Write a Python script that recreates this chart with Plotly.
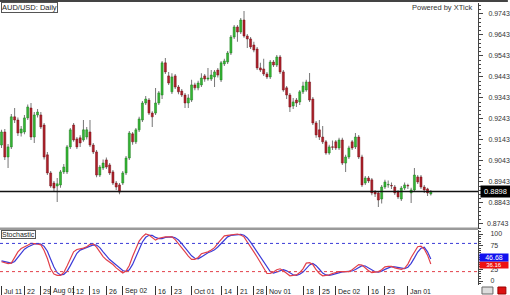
import plotly.graph_objects as go
import pandas as pd

# ---------------- data ----------------
dates = pd.bdate_range("2013-07-11", periods=132).strftime("%Y-%m-%d").tolist()

opens = [
    0.9119, 0.9181, 0.9062, 0.9110, 0.9253, 0.9238, 0.9176, 0.9181, 0.9248, 0.9295,
    0.9157, 0.9262, 0.9262, 0.9214, 0.9072, 0.8986, 0.8938, 0.8924, 0.8929, 0.8991,
    0.8991, 0.9110, 0.9214, 0.9148, 0.9153, 0.9143, 0.9157, 0.9181, 0.9119, 0.9086,
    0.8976, 0.9010, 0.9048, 0.9024, 0.8991, 0.8938, 0.8929, 0.8938, 0.8986, 0.9057,
    0.9172, 0.9134, 0.9191, 0.9238, 0.9319, 0.9333, 0.9271, 0.9271, 0.9319, 0.9357,
    0.9510, 0.9448, 0.9372, 0.9448, 0.9395, 0.9376, 0.9357, 0.9319, 0.9333, 0.9405,
    0.9391, 0.9405, 0.9448, 0.9433, 0.9433, 0.9443, 0.9476, 0.9429, 0.9505, 0.9514,
    0.9557, 0.9633, 0.9681, 0.9657, 0.9714, 0.9638, 0.9624, 0.9595, 0.9576, 0.9486,
    0.9481, 0.9457, 0.9443, 0.9514, 0.9500, 0.9538, 0.9467, 0.9391, 0.9357, 0.9305,
    0.9333, 0.9324, 0.9372, 0.9381, 0.9419, 0.9338, 0.9224, 0.9191, 0.9157, 0.9134,
    0.9081, 0.9110, 0.9134, 0.9105, 0.9143, 0.9033, 0.9062, 0.9134, 0.9110, 0.9157,
    0.9062, 0.8938, 0.8962, 0.8953, 0.8895, 0.8891, 0.8862, 0.8919, 0.8929, 0.8926,
    0.8919, 0.8895, 0.8862, 0.8914, 0.8926, 0.8891, 0.8905, 0.8967, 0.8967, 0.8919,
    0.8910, 0.8886,
]
highs = [
    0.9191, 0.9195, 0.9124, 0.9267, 0.9295, 0.9250, 0.9210, 0.9262, 0.9312, 0.9319,
    0.9276, 0.9290, 0.9276, 0.9224, 0.9086, 0.8995, 0.8948, 0.8962, 0.9000, 0.9029,
    0.9119, 0.9200, 0.9224, 0.9157, 0.9165, 0.9238, 0.9205, 0.9238, 0.9129, 0.9095,
    0.9024, 0.9050, 0.9060, 0.9033, 0.9000, 0.8948, 0.8938, 0.8995, 0.9067, 0.9186,
    0.9181, 0.9200, 0.9253, 0.9329, 0.9352, 0.9343, 0.9280, 0.9390, 0.9376, 0.9519,
    0.9533, 0.9467, 0.9460, 0.9457, 0.9405, 0.9386, 0.9367, 0.9360, 0.9430, 0.9415,
    0.9425, 0.9460, 0.9457, 0.9486, 0.9476, 0.9476, 0.9486, 0.9519, 0.9530, 0.9567,
    0.9643, 0.9690, 0.9690, 0.9724, 0.9757, 0.9648, 0.9633, 0.9610, 0.9586, 0.9510,
    0.9529, 0.9467, 0.9524, 0.9524, 0.9548, 0.9548, 0.9476, 0.9400, 0.9367, 0.9343,
    0.9343, 0.9381, 0.9420, 0.9430, 0.9462, 0.9348, 0.9233, 0.9238, 0.9210, 0.9143,
    0.9120, 0.9140, 0.9143, 0.9153, 0.9153, 0.9072, 0.9115, 0.9143, 0.9176, 0.9167,
    0.9072, 0.8972, 0.8972, 0.8962, 0.8905, 0.8900, 0.8929, 0.8953, 0.8950, 0.8940,
    0.8929, 0.8905, 0.8924, 0.8940, 0.8934, 0.8915, 0.9010, 0.8976, 0.8976, 0.8929,
    0.8915, 0.8905,
]
lows = [
    0.9105, 0.9048, 0.9010, 0.9100, 0.9224, 0.9162, 0.9160, 0.9170, 0.9238, 0.9143,
    0.9129, 0.9250, 0.9195, 0.9050, 0.8976, 0.8915, 0.8895, 0.8848, 0.8915, 0.8981,
    0.8981, 0.9100, 0.9134, 0.9100, 0.9110, 0.9134, 0.9145, 0.9110, 0.9076, 0.8965,
    0.8967, 0.9000, 0.9005, 0.8976, 0.8929, 0.8905, 0.8885, 0.8929, 0.8976, 0.9048,
    0.9120, 0.9124, 0.9181, 0.9229, 0.9310, 0.9262, 0.9205, 0.9262, 0.9310, 0.9338,
    0.9457, 0.9405, 0.9362, 0.9385, 0.9360, 0.9348, 0.9295, 0.9295, 0.9324, 0.9380,
    0.9380, 0.9395, 0.9420, 0.9425, 0.9424, 0.9395, 0.9440, 0.9419, 0.9495, 0.9505,
    0.9548, 0.9624, 0.9610, 0.9648, 0.9630, 0.9581, 0.9576, 0.9560, 0.9476, 0.9467,
    0.9448, 0.9433, 0.9433, 0.9490, 0.9490, 0.9457, 0.9372, 0.9338, 0.9276, 0.9290,
    0.9300, 0.9310, 0.9362, 0.9372, 0.9324, 0.9214, 0.9153, 0.9143, 0.9124, 0.9072,
    0.9072, 0.9095, 0.9095, 0.9095, 0.9024, 0.8991, 0.9052, 0.9095, 0.9100, 0.9052,
    0.8919, 0.8929, 0.8938, 0.8880, 0.8872, 0.8824, 0.8840, 0.8910, 0.8915, 0.8910,
    0.8881, 0.8862, 0.8852, 0.8905, 0.8910, 0.8843, 0.8895, 0.8933, 0.8910, 0.8890,
    0.8876, 0.8878,
]
closes = [
    0.9181, 0.9062, 0.9110, 0.9253, 0.9238, 0.9176, 0.9195, 0.9248, 0.9300, 0.9157,
    0.9262, 0.9276, 0.9205, 0.9062, 0.8986, 0.8924, 0.8914, 0.8934, 0.8991, 0.9014,
    0.9110, 0.9191, 0.9143, 0.9110, 0.9129, 0.9191, 0.9191, 0.9119, 0.9086, 0.8976,
    0.9014, 0.9033, 0.9014, 0.8986, 0.8938, 0.8919, 0.8895, 0.8986, 0.9057, 0.9176,
    0.9134, 0.9191, 0.9243, 0.9319, 0.9338, 0.9271, 0.9253, 0.9319, 0.9367, 0.9510,
    0.9467, 0.9414, 0.9443, 0.9395, 0.9372, 0.9357, 0.9319, 0.9343, 0.9405, 0.9391,
    0.9414, 0.9438, 0.9433, 0.9438, 0.9452, 0.9467, 0.9452, 0.9510, 0.9519, 0.9557,
    0.9633, 0.9681, 0.9657, 0.9714, 0.9638, 0.9624, 0.9586, 0.9571, 0.9486, 0.9476,
    0.9457, 0.9443, 0.9514, 0.9500, 0.9538, 0.9467, 0.9381, 0.9357, 0.9300, 0.9324,
    0.9319, 0.9372, 0.9400, 0.9419, 0.9333, 0.9224, 0.9167, 0.9157, 0.9134, 0.9081,
    0.9110, 0.9108, 0.9105, 0.9143, 0.9033, 0.9062, 0.9105, 0.9105, 0.9157, 0.9062,
    0.8929, 0.8962, 0.8948, 0.8891, 0.8886, 0.8857, 0.8919, 0.8943, 0.8931, 0.8924,
    0.8891, 0.8872, 0.8914, 0.8929, 0.8924, 0.8905, 0.8976, 0.8943, 0.8919, 0.8905,
    0.8891, 0.8898,
]

stoch_k = [
    41, 39, 37, 38, 50, 62, 69, 72, 76, 80,
    80, 79, 77, 65, 48, 26, 15, 12, 12, 18,
    32, 48, 62, 67, 68, 70, 73, 78, 79, 72,
    62, 52, 45, 40, 35, 28, 22, 17, 21, 33,
    52, 70, 85, 94, 100, 98, 93, 87, 91, 93,
    94, 94, 94, 88, 80, 71, 62, 53, 46, 46,
    50, 58, 60, 62, 66, 71, 80, 89, 96, 97,
    98, 99, 100, 98, 94, 83, 71, 62, 51, 40,
    28, 16, 16, 19, 24, 26, 22, 17, 11, 12,
    13, 18, 26, 38, 39, 35, 24, 16, 11, 12,
    13, 16, 18, 20, 20, 20, 20, 24, 29, 35,
    34, 27, 22, 18, 19, 20, 24, 30, 31, 31,
    28, 27, 25, 27, 36, 50, 62, 73, 74, 68,
    55, 36.16,
]
stoch_d = [
    43, 41, 39, 38, 41.7, 50, 60.3, 67.7, 72.3, 76,
    78.7, 79.7, 78.7, 73.7, 63.3, 46.3, 29.7, 17.7, 13, 14,
    20.7, 32.7, 47.3, 59, 65.7, 68.3, 70.3, 73.7, 76.7, 76.3,
    71, 62, 53, 45.7, 40, 34.3, 28.3, 22.3, 20, 23.7,
    35.3, 51.7, 69, 83, 93, 97.3, 97, 92.7, 90.3, 90.3,
    92.7, 93.7, 94, 92, 87.3, 79.7, 71, 62, 53.7, 48.3,
    47.3, 51.3, 56, 60, 62.7, 66.3, 72.3, 80, 88.3, 94,
    97, 98, 99, 99, 97.3, 91.7, 82.7, 72, 61.3, 51,
    39.7, 28, 20, 17, 19.7, 23, 24, 21.7, 16.7, 13.3,
    12, 14.3, 19, 27.3, 34.3, 37.3, 32.7, 25, 17, 13,
    12, 13.7, 15.7, 18, 19.3, 20, 20, 21.3, 24.3, 29.3,
    32.7, 32, 27.7, 22.3, 19.7, 19, 21, 24.7, 28.3, 30.7,
    30, 28.7, 26.7, 26.3, 29.3, 37.7, 49.3, 61.7, 69.7, 71.7,
    62, 46.68,
]

price_ticks = [0.8743, 0.8843, 0.8943, 0.9043, 0.9143, 0.9243, 0.9343, 0.9443,
               0.9543, 0.9643, 0.9743]
stoch_ticks = [0, 25, 50, 75, 100]

tick_dates = ["2013-07-11", "2013-07-22", "2013-07-29", "2013-08-01", "2013-08-12",
              "2013-08-19", "2013-08-26", "2013-09-02", "2013-09-16", "2013-09-23",
              "2013-10-01", "2013-10-14", "2013-10-21", "2013-10-28", "2013-11-01",
              "2013-11-18", "2013-11-25", "2013-12-02", "2013-12-16", "2013-12-23",
              "2014-01-01"]
tick_labels = ["Jul 11", "22", "29", "Aug 01", "12", "19", "26", "Sep 02", "16", "23",
               "Oct 01", "14", "21", "28", "Nov 01", "18", "25", "Dec 02", "16", "23",
               "Jan 01"]

# ---------------- derived drawing lists ----------------
up = [c >= o for o, c in zip(opens, closes)]
body_base = [min(o, c) for o, c in zip(opens, closes)]
body_len = [max(abs(c - o), 0.00022) for o, c in zip(opens, closes)]
body_fill = ["#34b834" if u else "#b0202a" for u in up]
body_edge = ["#1d7a1d" if u else "#741018" for u in up]
wick_len = [h - l for h, l in zip(highs, lows)]
last_price = closes[-1]

FONT = "Liberation Sans, Arial, sans-serif"

fig = go.Figure()
fig.add_trace(go.Bar(x=dates, y=wick_len, base=lows, width=0.32,
                     marker=dict(color="#7c7c7c", line=dict(width=0)),
                     xaxis="x", yaxis="y"))
fig.add_trace(go.Bar(x=dates, y=body_len, base=body_base, width=0.62,
                     marker=dict(color=body_fill, line=dict(color=body_edge, width=0.5)),
                     xaxis="x", yaxis="y"))
fig.add_trace(go.Scatter(x=dates, y=stoch_d, mode="lines",
                         line=dict(color="#3b3bd8", width=1.2), xaxis="x", yaxis="y2"))
fig.add_trace(go.Scatter(x=dates, y=stoch_k, mode="lines",
                         line=dict(color="#e2404a", width=1.2), xaxis="x", yaxis="y2"))

# main panel price scale (for placing the lowest label as free text)
Y_LO, Y_HI = 0.8721, 0.9795
DOM_LO = 0.2
H = 282.0  # plot area height in px


def py(pix):
    """paper y for a pixel row"""
    return (285 - pix) / H


def price_paper(v):
    return DOM_LO + (1 - DOM_LO) * (v - Y_LO) / (Y_HI - Y_LO)


shapes = [
    # top dark border
    dict(type="line", xref="paper", yref="paper", x0=0, x1=510 / 480, y0=py(1), y1=py(1),
         line=dict(color="#444444", width=2)),
    # panel separator
    dict(type="line", xref="paper", yref="paper", x0=0, x1=1, y0=py(228.8), y1=py(228.8),
         line=dict(color="#9a9a9a", width=2.5)),
    # current price line
    dict(type="line", xref="paper", yref="y", x0=0, x1=1, y0=last_price, y1=last_price,
         line=dict(color="#111111", width=1.5)),
    # stochastic levels
    dict(type="line", xref="paper", yref="y2", x0=0, x1=1, y0=80, y1=80,
         line=dict(color="#3b3bd8", width=1, dash="dot")),
    dict(type="line", xref="paper", yref="y2", x0=0, x1=1, y0=20, y1=20,
         line=dict(color="#e2404a", width=1, dash="dot")),
    # tiny corner buttons
    dict(type="rect", xref="paper", yref="paper", x0=484 / 480, x1=495 / 480,
         y0=py(294), y1=py(287), fillcolor="#dddddd", line=dict(color="#666666", width=1)),
    dict(type="rect", xref="paper", yref="paper", x0=500 / 480, x1=508 / 480,
         y0=py(294), y1=py(287), fillcolor="#dd1111", line=dict(color="#990000", width=1)),
]

annotations = [
    dict(text="AUD/USD: Daily", xref="paper", yref="paper", x=0.002, y=py(1.5),
         xanchor="left", yanchor="top", showarrow=False, bgcolor="white",
         bordercolor="#555555", borderwidth=1, borderpad=0,
         font=dict(family=FONT, size=7.5, color="#222222")),
    dict(text="Powered by XTick", xref="paper", yref="paper", x=444 / 480, y=py(7.5),
         xanchor="center", yanchor="middle", showarrow=False,
         font=dict(family=FONT, size=7.5, color="#333333")),
    dict(text="Stochastic", xref="paper", yref="paper", x=0.002, y=py(230),
         xanchor="left", yanchor="top", showarrow=False, bgcolor="white",
         bordercolor="#555555", borderwidth=1, borderpad=0,
         font=dict(family=FONT, size=7, color="#222222")),
    # lowest price-axis label, placed as free text
    dict(text="%.4f" % price_ticks[0], xref="paper", yref="paper", x=488.5 / 480,
         y=price_paper(price_ticks[0]), xanchor="left", yanchor="middle",
         showarrow=False, borderpad=0, bgcolor="white",
         font=dict(family=FONT, size=7, color="#333333")),
    dict(text="%.4f" % last_price, xref="paper", yref="y", x=482 / 480, y=last_price,
         xanchor="left", yanchor="middle", showarrow=False, bgcolor="#000000",
         width=27, borderpad=1, font=dict(family=FONT, size=7.5, color="white")),
    dict(text="%.2f" % stoch_k[-1], xref="paper", yref="y2", x=481 / 480, y=stoch_k[-1],
         xanchor="left", yanchor="middle", showarrow=False, bgcolor="#ee1111",
         width=28, height=6, borderpad=0, yshift=-1,
         font=dict(family=FONT, size=6, color="white")),
    dict(text="%.2f" % stoch_d[-1], xref="paper", yref="y2", x=481 / 480, y=stoch_d[-1],
         xanchor="left", yanchor="middle", showarrow=False, bgcolor="#1111ee",
         width=28, height=7, borderpad=0, yshift=1.5,
         font=dict(family=FONT, size=7, color="white")),
]
for d, lab in zip(tick_dates, tick_labels):
    annotations.append(dict(text=lab, xref="x", yref="paper", x=d, y=py(291),
                            xanchor="left", yanchor="middle", xshift=0.5, showarrow=False,
                            font=dict(family=FONT, size=7, color="#222222")))

fig.update_layout(
    width=510, height=295,
    margin=dict(l=0, r=30, t=3, b=10, pad=0),
    paper_bgcolor="white", plot_bgcolor="white",
    showlegend=False, barmode="overlay", hovermode=False,
    font=dict(family=FONT, size=7, color="#333333"),
    xaxis=dict(type="category", range=[-0.46, 145.4], tickmode="array",
               tickvals=tick_dates, ticks="outside", ticklen=9, tickwidth=1,
               tickcolor="#333333", showticklabels=False, showgrid=False,
               zeroline=False, showline=False, anchor="y2", fixedrange=True),
    yaxis=dict(domain=[DOM_LO, 1.0], range=[Y_LO, Y_HI], side="right", anchor="x",
               tickmode="array", tickvals=price_ticks,
               ticktext=[""] + ["%.4f" % v for v in price_ticks[1:]],
               ticks="outside", ticklen=4, tickcolor="#444444", showline=True,
               linecolor="#444444", linewidth=1, showgrid=False, zeroline=False,
               ticklabelstandoff=4,
               tickfont=dict(family=FONT, size=7, color="#333333"),
               minor=dict(tickmode="linear", ticks="outside", ticklen=2, tick0=0.8743,
                          dtick=0.002, tickcolor="#444444", showgrid=False)),
    yaxis2=dict(domain=[0.0, 0.195], range=[-8.5, 108.5], side="right", anchor="x",
                tickmode="array", tickvals=stoch_ticks,
                ticktext=[str(v) for v in stoch_ticks],
                ticks="outside", ticklen=4,
                tickcolor="#444444", showline=True, linecolor="#444444", linewidth=1,
                showgrid=False, zeroline=False, ticklabelstandoff=6,
                tickfont=dict(family=FONT, size=7, color="#333333"),
                minor=dict(tickmode="linear", ticks="outside", ticklen=2, tick0=0,
                           dtick=5, tickcolor="#444444", showgrid=False)),
    shapes=shapes,
    annotations=annotations,
)

fig.write_html("out.html",
               config={"displayModeBar": False, "staticPlot": True},
               post_script="document.body.style.margin='0px';"
                           "document.body.style.overflow='hidden';")
